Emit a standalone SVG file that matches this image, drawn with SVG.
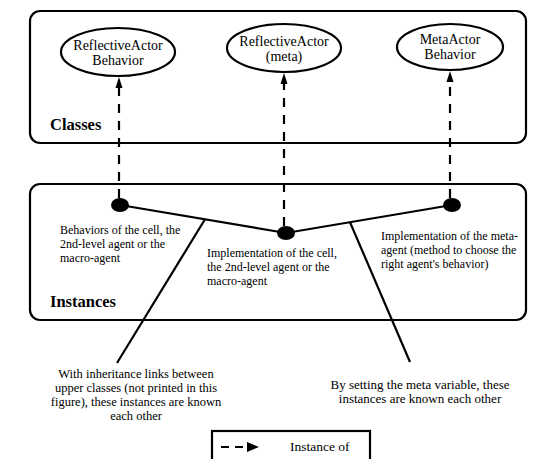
<svg xmlns="http://www.w3.org/2000/svg" width="538" height="459" viewBox="0 0 538 459">
<style>
.box{fill:none;stroke:#000;stroke-width:2.2}
.ell{fill:#fff;stroke:#000;stroke-width:2.2}
text{font-family:'Liberation Serif','DejaVu Serif',serif;fill:#000}
.et{font-size:14px;text-anchor:middle}
.lbl{font-size:12px}
.big{font-size:16.5px;font-weight:bold}
.note{font-size:12.5px;text-anchor:middle}
.dash{stroke:#000;stroke-width:2.2;stroke-dasharray:9 8;fill:none}
.solid{stroke:#000;stroke-width:2.2;fill:none}
</style>
<rect width="538" height="459" fill="#fff"/>
<g id="classes-frame">
<rect class="box" x="30" y="11" width="496" height="132" rx="10"/>
<text class="big" x="50" y="130">Classes</text>
</g>
<g id="instances-frame">
<rect class="box" x="30" y="184" width="496" height="136" rx="10"/>
<text class="big" x="50" y="307">Instances</text>
</g>
<g id="connectors">
<line class="dash" x1="119" y1="198" x2="119" y2="84"/>
<polygon points="119,77 115.5,88 122.5,88" fill="#000"/>
<line class="dash" x1="284" y1="226" x2="284" y2="82"/>
<polygon points="284,73 280.5,84 287.5,84" fill="#000"/>
<line class="dash" x1="450" y1="198" x2="450" y2="80"/>
<polygon points="450,71 446.5,82 453.5,82" fill="#000"/>
<polyline class="solid" points="120,205 286,233 452,205"/>
<line class="solid" x1="205" y1="219.3" x2="117" y2="363"/>
<line class="solid" x1="350" y1="222.2" x2="410" y2="362"/>
</g>
<g id="node-reflective-behavior">
<ellipse class="ell" cx="118" cy="52" rx="57" ry="24"/>
<text class="et" x="118" y="50">ReflectiveActor</text>
<text class="et" x="118" y="65">Behavior</text>
</g>
<g id="node-reflective-meta">
<ellipse class="ell" cx="284" cy="48" rx="57" ry="24"/>
<text class="et" x="284" y="46">ReflectiveActor</text>
<text class="et" x="284" y="61">(meta)</text>
</g>
<g id="node-meta-behavior">
<ellipse class="ell" cx="450" cy="47" rx="53" ry="23"/>
<text class="et" x="450" y="44">MetaActor</text>
<text class="et" x="450" y="59">Behavior</text>
</g>
<g id="inst-behaviors">
<ellipse cx="120" cy="205" rx="9" ry="7" fill="#000"/>
<text class="lbl" x="60" y="234">Behaviors of the cell, the</text>
<text class="lbl" x="60" y="248">2nd-level agent or the</text>
<text class="lbl" x="60" y="262">macro-agent</text>
</g>
<g id="inst-implementation">
<ellipse cx="286" cy="233" rx="9" ry="7" fill="#000"/>
<text class="lbl" x="207" y="257">Implementation of the cell,</text>
<text class="lbl" x="207" y="271">the 2nd-level agent or the</text>
<text class="lbl" x="207" y="285">macro-agent</text>
</g>
<g id="inst-meta">
<ellipse cx="452" cy="205" rx="9" ry="7" fill="#000"/>
<text class="lbl" x="381" y="240">Implementation of the meta-</text>
<text class="lbl" x="381" y="254">agent (method to choose the</text>
<text class="lbl" x="381" y="268">right agent's behavior)</text>
</g>
<g id="note-left">
<text class="note" x="136" y="378">With inheritance links between</text>
<text class="note" x="136" y="392">upper classes (not printed in this</text>
<text class="note" x="136" y="406">figure), these instances are known</text>
<text class="note" x="136" y="420">each other</text>
</g>
<g id="note-right">
<text class="note" x="420" y="389" style="font-size:13px">By setting the meta variable, these</text>
<text class="note" x="420" y="403" style="font-size:13px">instances are known each other</text>
</g>
<g id="legend">
<rect class="box" x="212" y="431" width="158" height="30"/>
<line class="dash" x1="221" y1="447" x2="246" y2="447" style="stroke-dasharray:8 6"/>
<polygon points="259,447 247,442 247,452" fill="#000"/>
<text x="290" y="451" style="font-size:13.5px">Instance of</text>
</g>
</svg>
